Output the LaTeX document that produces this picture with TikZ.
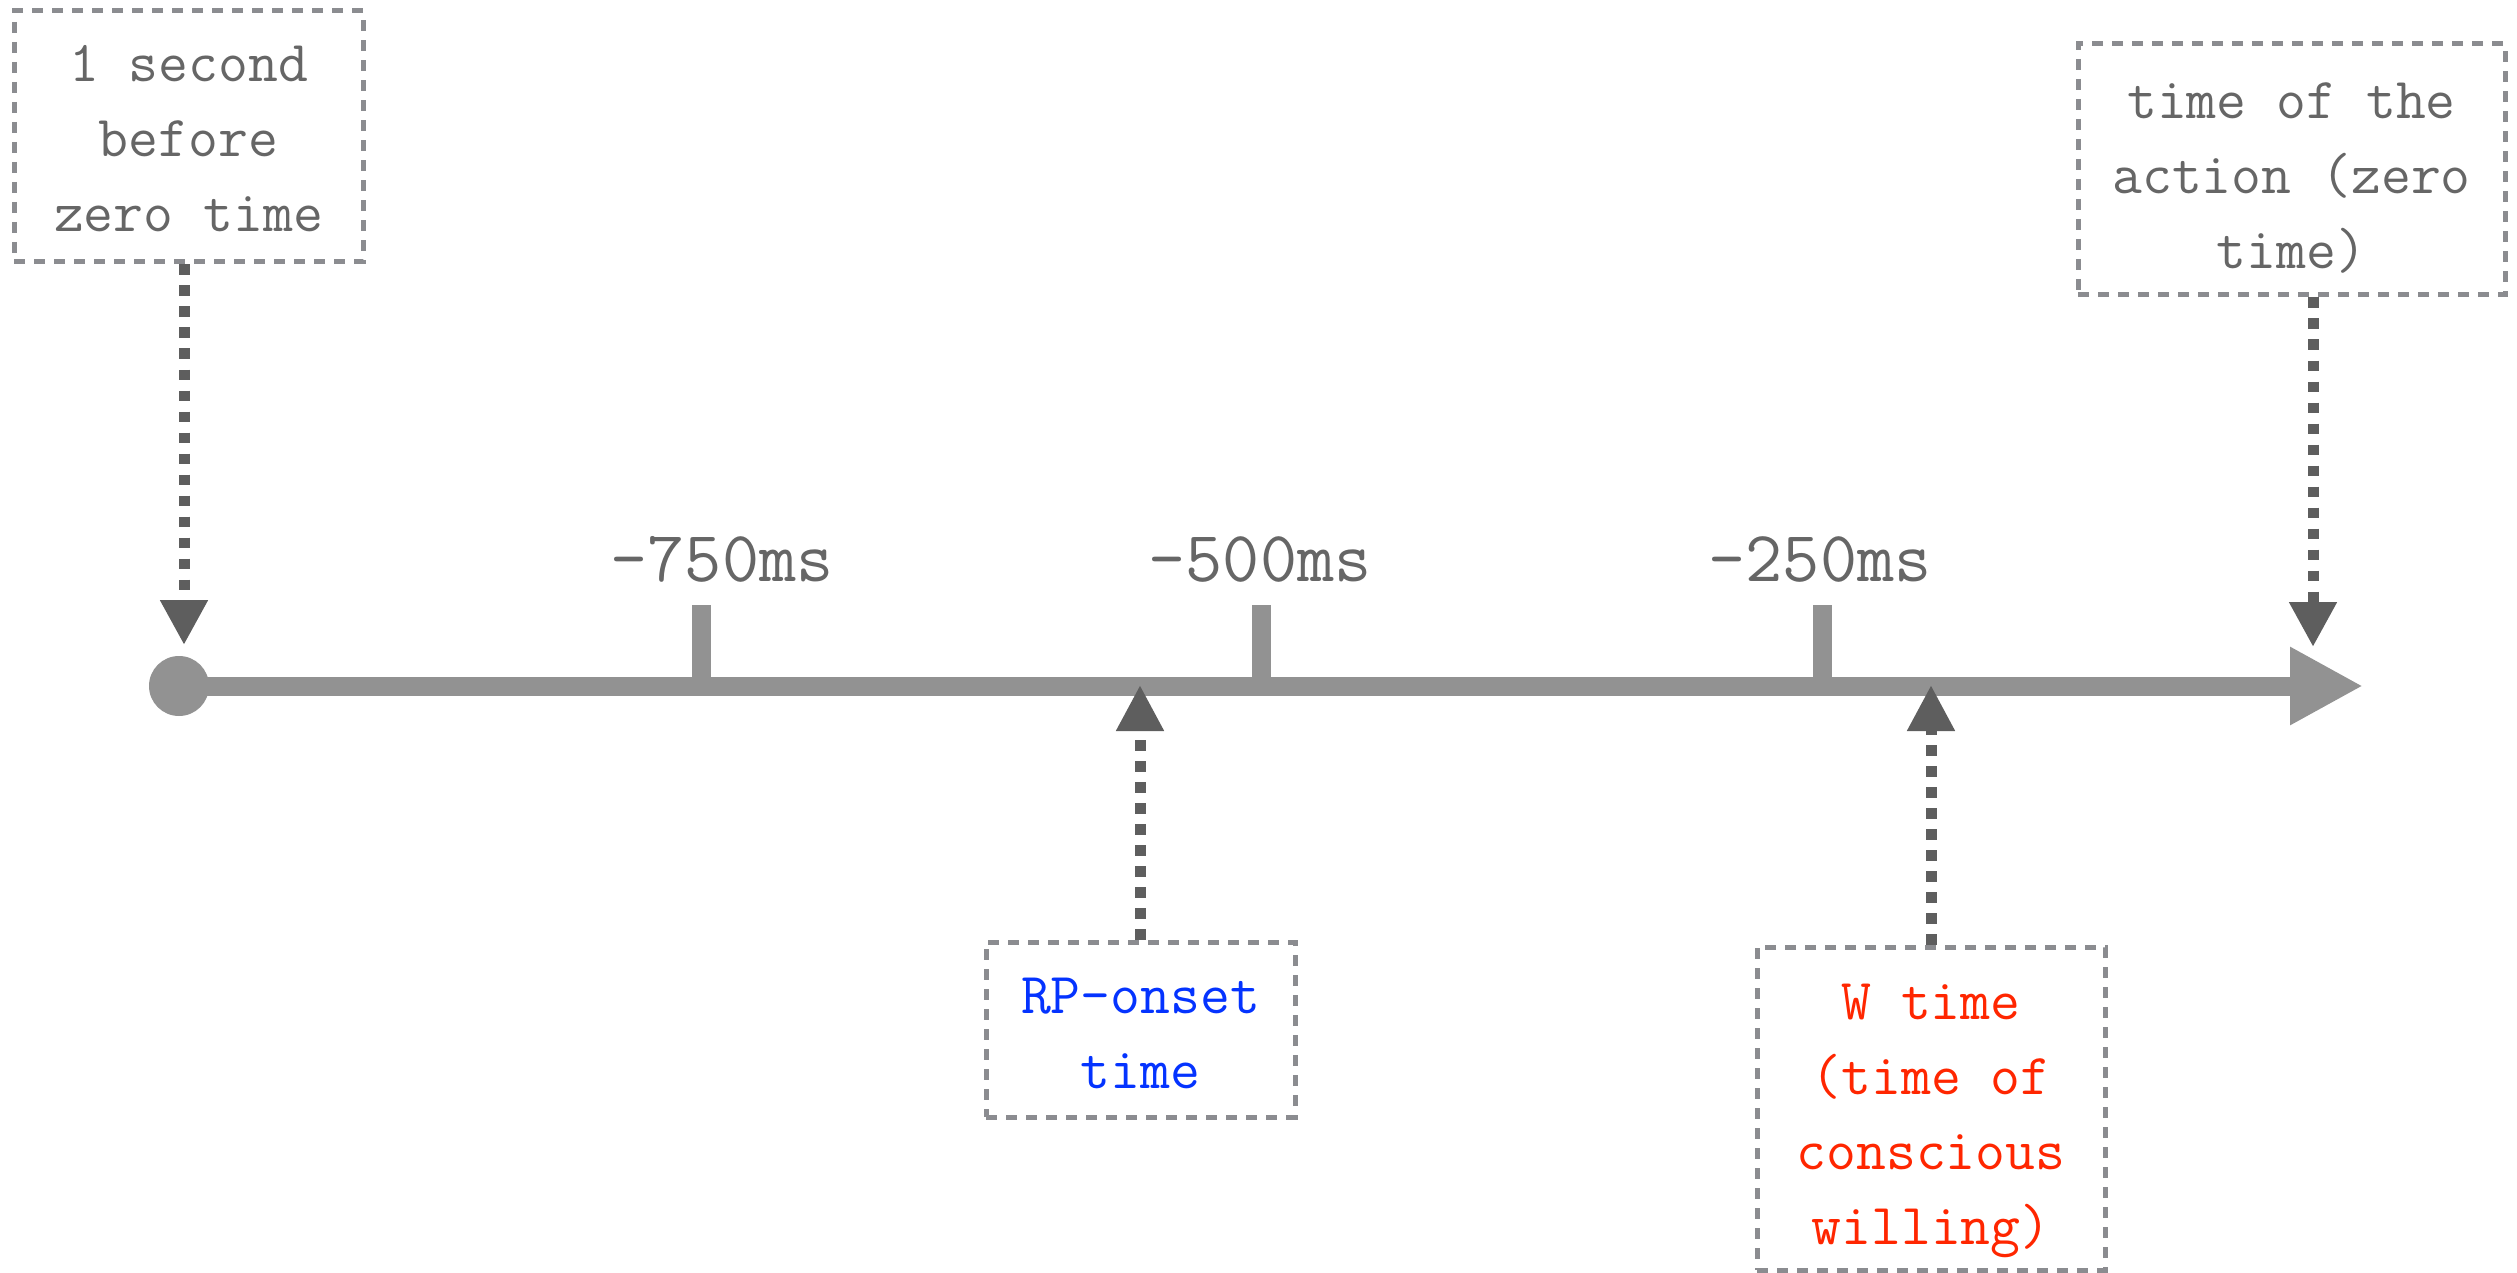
\documentclass[tikz,border=0pt]{standalone}
\usepackage{fontspec}
\usetikzlibrary{arrows.meta}
\definecolor{axisgray}{HTML}{929292}
\definecolor{conngray}{HTML}{5E5E5E}
\definecolor{boxgray}{HTML}{8B8C90}
\definecolor{textgray}{HTML}{666666}
\definecolor{rpblue}{HTML}{0433FF}
\definecolor{wred}{HTML}{FF2600}
\tikzset{
  infobox/.style={draw=boxgray, line width=2.5pt, dash pattern=on 5.5pt off 4.5pt,
    rectangle, inner sep=0pt},
  boxtext/.style={inner sep=0pt, align=center, text=textgray,
    font=\ttfamily\fontsize{29pt}{37.5pt}\selectfont\addfontfeatures{FakeBold=3}},
  conn/.style={draw=conngray, line width=5.5pt, dash pattern=on 5.25pt off 5.25pt,
    -{Triangle[length=22.5pt,width=22.5pt]}},
  tickmark/.style={draw=axisgray, line width=9.5pt},
  ticklabel/.style={anchor=base, inner sep=0pt, text=textgray,
    font=\ttfamily\fontsize{36pt}{40pt}\selectfont\addfontfeatures{FakeBold=3}},
}
\begin{document}
\begin{tikzpicture}[x=0.5pt, y=-0.5pt]
\useasboundingbox (0,0) rectangle (2517,1273);
% boxes
\node[infobox, minimum width=174.5pt, minimum height=125.5pt] (before) at (188.5,136.5) {};
\node[boxtext] (beforetext) at ([yshift=-1pt]before.center) {1 second\\before\\zero time};
\node[infobox, minimum width=213.5pt, minimum height=125.5pt] (zero) at (2291.5,169.5) {};
\node[boxtext] (zerotext) at ([yshift=-4.5pt]zero.center) {time of the\\action (zero\\time)};
\node[infobox, minimum width=154.5pt, minimum height=87.5pt] (rp) at (1140.5,1029.5) {};
\node[boxtext, text=rpblue] (rptext) at ([yshift=-1.75pt]rp.center) {RP-onset\\time};
\node[infobox, minimum width=174pt, minimum height=161.5pt] (w) at (1931,1108.5) {};
\node[boxtext, text=wred] (wtext) at ([yshift=-6pt]w.center) {W time\\(time of\\conscious\\willing)};
% axis
\node[circle, fill=axisgray, minimum size=30pt, inner sep=0pt] (start) at (179,686) {};
\coordinate (axisend) at (2363,686);
\draw[draw=axisgray, line width=9.5pt, -{Triangle[length=36.5pt,width=36.5pt]}] (start.center) -- (axisend);
% ticks
\coordinate (t750) at (701,686);
\coordinate (t500) at (1261,686);
\coordinate (t250) at (1822,686);
\draw[tickmark] (701,605) -- (t750);
\draw[tickmark] (1261,605) -- (t500);
\draw[tickmark] (1822,605) -- (t250);
\node[ticklabel] (l750) at (722,581) {-750ms};
\node[ticklabel] (l500) at (1260,581) {-500ms};
\node[ticklabel] (l250) at (1820,581) {-250ms};
% connector tips
\coordinate (beforetip) at (184,645);
\coordinate (zerotip) at (2313,647);
\coordinate (rptip) at (1140,685);
\coordinate (wtip) at (1931,685);
\draw[conn] (before.south -| beforetip) -- (beforetip);
\draw[conn] (zero.south -| zerotip) -- (zerotip);
\draw[conn, -{Triangle[length=23pt,width=22.5pt]}] (rp.north -| rptip) -- (rptip);
\draw[conn, -{Triangle[length=23pt,width=22.5pt]}] (w.north -| wtip) -- (wtip);
\end{tikzpicture}
\end{document}
